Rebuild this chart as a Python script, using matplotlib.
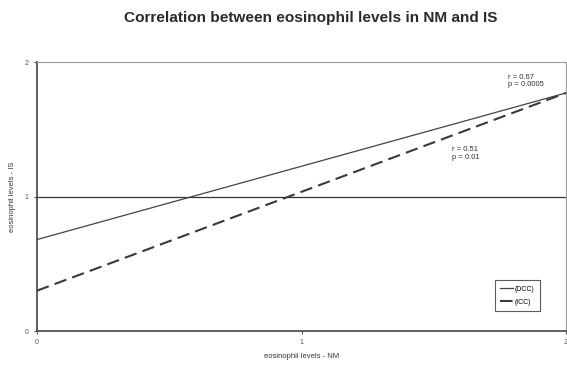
import matplotlib
matplotlib.use("Agg")
import matplotlib.pyplot as plt

plt.rcParams['font.family'] = ['Liberation Sans', 'DejaVu Sans']

x_ends = [0, 2]
dcc_y = [0.68, 1.77]
icc_y = [0.30, 1.77]
series_labels = ["(DCC)", "(ICC)"]
x_ticks = [0, 1, 2]
y_ticks = [0, 1, 2]
annot_dcc = "r = 0.67\np = 0.0005"
annot_icc = "r = 0.51\np = 0.01"

fig = plt.figure(figsize=(5.67, 3.66), dpi=100)
ax = fig.add_axes([0.0653, 0.0956, 0.933, 0.735])
ax.set_xlim(0, 2)
ax.set_ylim(0, 2)

ax.axhline(1, color="#333333", lw=0.9, zorder=1)
ax.plot(x_ends, dcc_y, color="#444444", lw=0.9, label=series_labels[0], zorder=3)
ax.plot(x_ends, icc_y, color="#3a3a3a", lw=1.5, ls=(0, (6, 3)), label=series_labels[1], zorder=3)

ax.text(1.78, 1.86, annot_dcc, fontsize=5.5, color="#333333", va="center", ha="left", linespacing=1.1)
ax.text(1.57, 1.32, annot_icc, fontsize=5.5, color="#333333", va="center", ha="left", linespacing=1.1)

ax.set_xticks(x_ticks)
ax.set_yticks(y_ticks)
ax.tick_params(labelsize=5, colors="#555555", length=2.5, width=0.8, direction="out")
for s in ["top", "right"]:
    ax.spines[s].set_color("#999999")
    ax.spines[s].set_linewidth(0.8)
for s in ["left", "bottom"]:
    ax.spines[s].set_color("#444444")
    ax.spines[s].set_linewidth(1.2)

ax.set_xlabel("eosinophil levels - NM", fontsize=5.5, color="#333333", labelpad=5)
ax.set_ylabel("eosinophil levels - IS", fontsize=5.5, color="#333333", labelpad=6)

fig.text(0.548, 0.952, "Correlation between eosinophil levels in NM and IS",
         ha="center", va="center", fontsize=11.1, fontweight="bold", color="#2a2a2a")

leg = ax.legend(loc="lower right", bbox_to_anchor=(0.9565, 0.06), fontsize=5,
                frameon=True, fancybox=False, edgecolor="#333333", handlelength=1.8,
                handletextpad=0.2, borderpad=0.8, labelspacing=0.9)
leg.get_frame().set_linewidth(0.8)

fig.savefig("out.png", dpi=100)
